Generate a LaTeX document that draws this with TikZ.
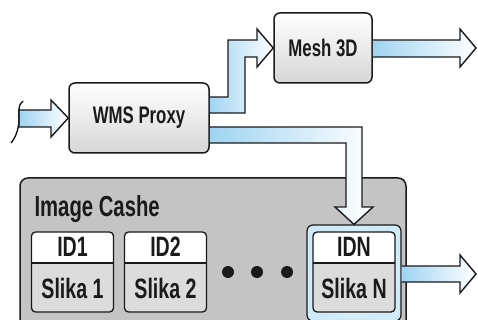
\documentclass[tikz,border=0pt]{standalone}
\usepackage{fontspec}
\setmainfont{Liberation Sans}[FakeStretch=0.7]
\usetikzlibrary{positioning}

\definecolor{arrowblue}{HTML}{9FD4F2}
\definecolor{cashegray}{HTML}{C4C4C4}
\definecolor{slikagray}{HTML}{DCDCDC}
\definecolor{ringblue}{HTML}{CFEAF8}
\definecolor{inkgray}{HTML}{1A1A1A}

\begin{document}
\begin{tikzpicture}[
x=1pt, y=-1pt,
proc/.style={rectangle, rounded corners=6pt, draw=inkgray, line width=1.5pt, top color=white, bottom color=black!16, text=inkgray, font=\fontsize{24}{26}\selectfont\bfseries},
cashe/.style={rectangle, rounded corners=8pt, draw=inkgray, line width=1.5pt, fill=cashegray, minimum width=386pt, minimum height=170pt},
idbox/.style={rectangle, rounded corners=4pt, draw=inkgray, line width=1.3pt, fill=slikagray, minimum width=82pt, minimum height=80pt,
  path picture={\fill[white] (path picture bounding box.north west) rectangle ([yshift=-31pt]path picture bounding box.north east);
    \draw[inkgray, line width=1.3pt] ([yshift=-31pt]path picture bounding box.north west) -- ([yshift=-31pt]path picture bounding box.north east);}},
idtext/.style={text=inkgray, font=\fontsize{28}{30}\selectfont\bfseries},
ring/.style={rectangle, rounded corners=6pt, draw=inkgray, line width=1.2pt, inner color=white, outer color=ringblue, minimum width=94pt, minimum height=96pt},
fat/.style={draw=inkgray, line width=1.4pt, line join=miter, left color=arrowblue, right color=white}
]
\useasboundingbox (0,0) rectangle (478,320);

% blocks
\node[proc, minimum width=140pt, minimum height=70pt] (wms) at (139,118) {WMS Proxy};
\node[proc, minimum width=98pt, minimum height=70pt] (mesh) at (323,48) {Mesh 3D};
\node[cashe] (cashe) at (213,263) {};
\node[idtext, anchor=base west, font=\fontsize{29}{31}\selectfont\bfseries] (title) at (31,216) {Image Cashe};

% image slots
\node[idbox] (id1) at (72.5,272) {};
\node[idtext] at ([yshift=-15.5pt]id1.north) {ID1};
\node[idtext] at ([yshift=24.5pt]id1.south) {Slika 1};
\node[idbox] (id2) at (165.5,272) {};
\node[idtext] at ([yshift=-15.5pt]id2.north) {ID2};
\node[idtext] at ([yshift=24.5pt]id2.south) {Slika 2};
\foreach \x in {228,257,287}
  \fill[inkgray] (\x,272) circle (6pt);
\node[ring] (idnring) at (354,273) {};
\node[idbox] (idn) at (354,272) {};
\node[idtext] at ([yshift=-15.5pt]idn.north) {IDN};
\node[idtext] at ([yshift=24.5pt]idn.south) {Slika N};

% arrows
\coordinate (in) at (19,119);
\draw[fat] (in |- 0,110) -- (51,110) -- (51,100) -- (wms.west) -- (51,137) -- (51,127) -- (in |- 0,127) -- cycle;
\draw[inkgray, line width=1.4pt] (23,101) .. controls (17,106) and (19,114) .. (in) .. controls (19,126) and (17,136) .. (11,143);
\draw[fat] (wms.east |- 0,97) -- (228,97) -- (228,40) -- (257,40) -- (257,29) -- (mesh.west) -- (257,67) -- (257,57) -- (245,57) -- (245,113) -- (wms.east |- 0,113);
\coordinate (meshout) at (476,48);
\draw[fat] (mesh.east |- 0,40) -- (460,40) -- (460,29) -- (meshout) -- (460,67) -- (460,57) -- (mesh.east |- 0,57);
\draw[fat] (wms.east |- 0,127) -- (362,127) -- (362,207) -- (373,207) -- (idnring.north) -- (335,207) -- (346,207) -- (346,143) -- (wms.east |- 0,143);
\coordinate (idnout) at (476,274);
\draw[fat] (idnring.east |- 0,266) -- (460,266) -- (460,255) -- (idnout) -- (460,293) -- (460,282) -- (idnring.east |- 0,282);
\end{tikzpicture}
\end{document}
